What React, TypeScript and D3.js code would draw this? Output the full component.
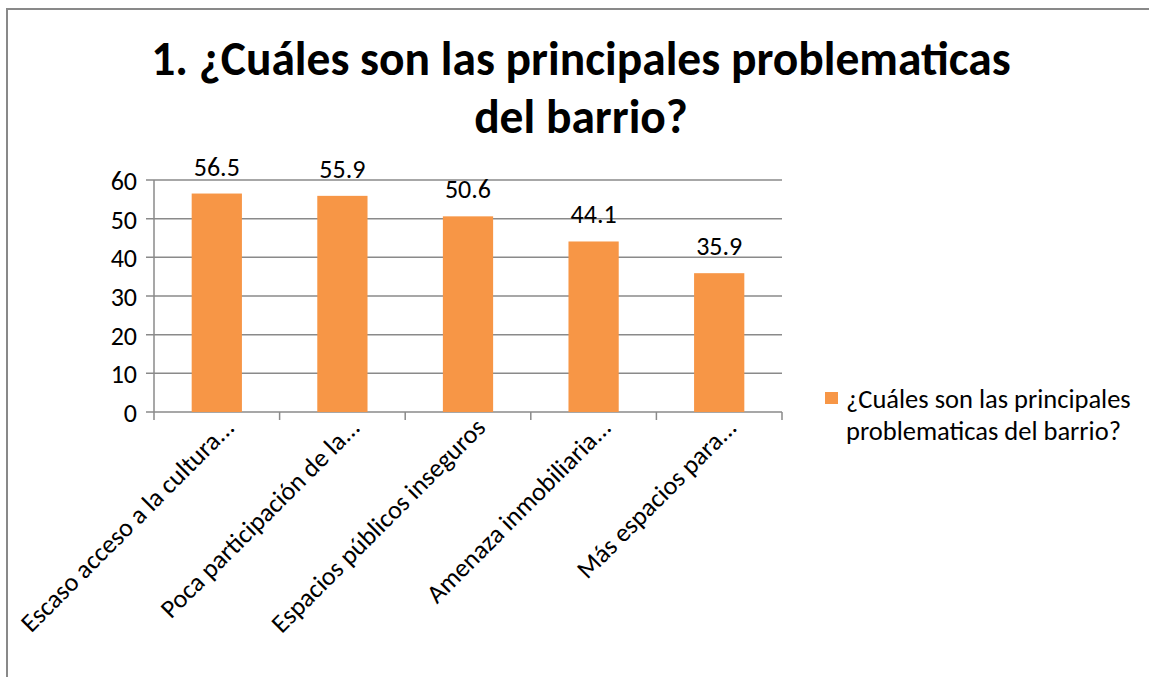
import * as d3 from 'd3';

// chart data
const categories = [
  'Escaso acceso a la cultura...',
  'Poca participación de la...',
  'Espacios públicos inseguros',
  'Amenaza inmobiliaria...',
  'Más espacios para...',
];
const values = [56.5, 55.9, 50.6, 44.1, 35.9];
const yTicks = [0, 10, 20, 30, 40, 50, 60];
const titleLines = ['1. ¿Cuáles son las principales problematicas', 'del barrio?'];
const legendLines = ['¿Cuáles son las principales', 'problematicas del barrio?'];

const W = 1149;
const H = 677;
const FONT = 'Carlito, Calibri, Lato, sans-serif';
const BAR = '#F79646';
const GRID = '#8a8a8a';
const FS = 26;

const plot = { left: 154, right: 782, top: 180, bottom: 412 };

export default function App() {
  const x = d3
    .scaleBand<string>()
    .domain(categories)
    .range([plot.left, plot.right])
    .paddingInner(0.6)
    .paddingOuter(0.3);

  const y = d3.scaleLinear().domain([0, 60]).range([plot.bottom, plot.top]);

  const step = x.step();
  const tickXs = d3.range(categories.length + 1).map((i) => plot.left + i * step);

  return (
    <svg
      width={W}
      height={H}
      style={{ position: 'absolute', left: 0, top: 0, display: 'block', background: '#fff' }}
      fontFamily={FONT}
    >
      <rect x={7} y={9} width={1170} height={720} fill="#fff" stroke="#898989" strokeWidth={2} />

      {/* title */}
      <text textAnchor="middle" fontWeight="bold" fontSize={47.5} fill="#000">
        {titleLines.map((t, i) => (
          <tspan key={t} x={581} y={75 + i * 58}>
            {t}
          </tspan>
        ))}
      </text>

      {/* grid lines */}
      {yTicks.map((t) => (
        <line
          key={t}
          x1={plot.left - 8}
          x2={plot.right}
          y1={y(t)}
          y2={y(t)}
          stroke={GRID}
          strokeWidth={1.5}
        />
      ))}

      {/* y axis */}
      <line x1={plot.left} x2={plot.left} y1={plot.top} y2={plot.bottom} stroke={GRID} strokeWidth={1.5} />
      {yTicks.map((t) => (
        <text key={t} x={137} y={y(t) + 10} textAnchor="end" fontSize={FS} fill="#000">
          {t}
        </text>
      ))}

      {/* x ticks */}
      {tickXs.map((tx, i) => (
        <line key={i} x1={tx} x2={tx} y1={plot.bottom} y2={plot.bottom + 8} stroke={GRID} strokeWidth={1.5} />
      ))}

      {/* bars */}
      {categories.map((c, i) => (
        <rect
          key={c}
          x={x(c)}
          y={y(values[i])}
          width={x.bandwidth()}
          height={plot.bottom - y(values[i])}
          fill={BAR}
        />
      ))}

      {/* data labels */}
      {categories.map((c, i) => (
        <text
          key={c}
          x={(x(c) ?? 0) + x.bandwidth() / 2}
          y={y(values[i]) - 18}
          textAnchor="middle"
          fontSize={FS}
          fill="#000"
        >
          {values[i].toFixed(1)}
        </text>
      ))}

      {/* category labels */}
      {categories.map((c) => {
        const cx = (x(c) ?? 0) + x.bandwidth() / 2 + 19;
        return (
          <text
            key={c}
            transform={`translate(${cx},429) rotate(-45)`}
            textAnchor="end"
            fontSize={FS}
            fill="#000"
          >
            {c}
          </text>
        );
      })}

      {/* legend */}
      <rect x={825} y={392} width={13} height={12} fill={BAR} />
      <text fontSize={26.5} fill="#000">
        {legendLines.map((t, i) => (
          <tspan key={t} x={846} y={408 + i * 32}>
            {t}
          </tspan>
        ))}
      </text>
    </svg>
  );
}
